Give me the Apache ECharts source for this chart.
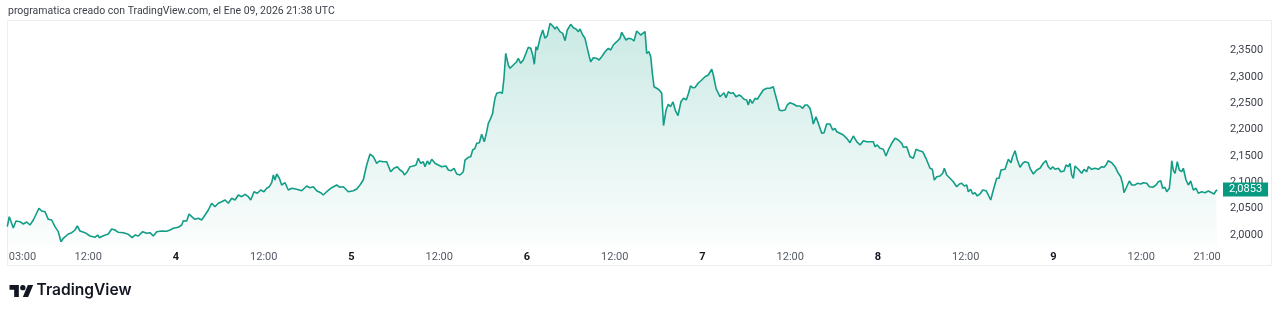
<!DOCTYPE html>
<html><head><meta charset="utf-8">
<script src="https://cdn.jsdelivr.net/npm/echarts@6/dist/echarts.min.js"></script>
<style>html,body{margin:0;padding:0;background:#fff}#c{width:1280px;height:314px}</style>
</head><body><div id="c"></div>
<script>
// hours since 2026-01-03 00:00 UTC
const hours = [0.93,1.20,1.75,2.12,2.67,2.90,3.12,3.58,4.03,4.49,
4.95,5.26,5.63,6.09,6.54,7.00,7.45,7.90,8.27,8.59,
8.82,9.27,9.74,10.19,10.50,10.87,11.56,12.24,12.92,13.29,
13.51,14.06,14.74,15.21,15.66,16.11,16.79,17.48,18.02,18.39,
18.84,19.45,19.99,20.44,20.90,21.36,22.04,22.73,23.18,23.63,
24.31,24.78,25.00,25.46,25.78,26.15,26.60,27.05,27.51,27.97,
28.42,28.88,29.33,29.78,30.25,30.70,31.15,31.62,32.07,32.52,
32.98,33.44,33.89,34.22,34.67,35.12,35.58,36.03,36.40,36.76,
37.09,37.31,37.54,37.77,38.13,38.45,38.91,39.36,39.82,40.51,
41.19,41.87,42.32,42.78,43.24,43.79,
44.14,44.61,45.29,45.98,46.43,46.88,47.56,48.25,48.71,49.16,
49.61,50.08,50.53,50.98,51.45,51.80,52.35,52.81,53.36,53.81,
54.26,54.63,55.00,55.22,55.63,56.00,56.45,56.82,57.13,57.46,
57.82,58.05,58.37,58.64,58.97,59.42,59.87,60.33,60.92,61.24,
61.61,62.02,62.39,62.84,63.29,63.52,63.97,64.30,64.57,64.89,
65.12,65.48,65.80,66.16,66.49,66.71,67.04,67.31,67.39,67.62,
67.86,68.31,68.62,68.85,69.09,69.44,69.68,70.13,70.59,70.81,
71.14,71.49,71.86,72.18,72.51,72.78,73.00,73.23,73.41,73.78,
74.15,74.46,74.78,75.15,75.52,75.83,76.06,76.51,76.88,77.20,
77.51,77.74,77.98,78.33,78.70,79.02,79.25,79.62,79.93,80.25,
80.52,80.71,81.07,81.53,81.85,82.21,82.67,83.12,83.45,83.80,
84.27,84.72,84.95,85.17,85.54,85.85,86.32,86.63,87.00,87.22,
87.55,87.82,88.14,88.37,88.68,88.92,89.14,89.37,89.74,90.09,
90.42,90.67,91.02,91.32,91.62,91.97,92.31,92.65,93.06,93.40,
93.79,94.09,94.36,94.66,94.97,95.43,95.89,96.34,96.79,97.03,
97.26,97.48,97.85,98.39,98.63,98.94,99.21,99.53,99.86,100.21,
100.58,101.03,101.36,101.68,102.04,102.26,102.50,102.81,103.18,103.49,
103.86,104.31,104.78,105.23,105.68,105.91,106.23,106.50,106.83,107.28,
107.59,107.97,108.42,108.88,109.33,109.70,110.02,110.33,110.70,110.93,
111.15,111.52,111.75,112.07,112.30,112.62,112.98,113.44,113.80,114.12,
114.35,114.80,115.25,115.72,116.17,116.62,117.09,117.54,117.99,118.46,
118.91,119.36,119.59,119.90,120.27,120.73,121.09,121.41,121.87,122.33,
122.78,123.24,123.46,123.93,124.38,124.83,125.20,125.65,126.11,126.56,
127.11,127.43,127.70,128.03,128.48,128.85,129.07,129.39,129.85,130.30,
130.76,131.12,131.44,131.80,132.13,132.35,132.68,132.95,133.26,133.58,
133.95,134.32,134.77,135.08,135.41,135.77,136.23,136.55,136.82,137.37,
137.82,138.19,138.37,138.74,139.05,139.42,139.79,140.10,140.55,140.79,
141.24,141.70,142.15,142.60,142.97,143.29,143.61,143.89,144.21,144.66,
144.99,145.44,145.71,146.03,146.26,146.49,146.71,146.94,147.39,147.86,
148.17,148.54,148.76,149.22,149.67,150.13,150.59,150.91,151.18,151.49,
151.96,152.41,152.86,153.19,153.46,153.64,154.01,154.37,154.69,155.15,
155.46,155.93,156.28,156.75,157.10,157.57,158.02,158.33,158.66,158.93,
159.25,159.48,159.84,160.03,160.17,160.38,160.62,160.93,161.20,161.53,
161.75,162.12,162.44,162.76,163.12,163.49,163.80,164.27,164.72,165.17,
165.63,165.95,166.22,166.40];

const prices = [2.0158,2.0348,2.0133,2.0266,2.0253,2.0272,2.0209,2.0247,2.0190,2.0285,
2.0418,2.0507,2.0456,2.0442,2.0298,2.0285,2.0158,2.0063,1.9873,1.9937,
1.9905,2.0019,2.0044,2.0095,2.0171,2.0076,2.0044,1.9981,1.9956,2.0000,
1.9949,1.9987,2.0019,2.0114,2.0095,2.0051,2.0044,2.0013,1.9949,2.0000,
1.9981,2.0063,2.0032,2.0044,1.9981,2.0063,2.0076,2.0070,2.0095,2.0127,
2.0146,2.0190,2.0272,2.0266,2.0399,2.0348,2.0298,2.0317,2.0285,2.0380,
2.0475,2.0602,2.0537,2.0602,2.0632,2.0665,2.0602,2.0697,2.0665,2.0760,
2.0727,2.0773,2.0727,2.0665,2.0822,2.0792,2.0855,2.0822,2.0887,2.0917,
2.0993,2.1139,2.1044,2.1158,2.1077,2.0950,2.0993,2.0855,2.0887,2.0868,
2.0841,2.0931,2.0898,2.0917,2.0841,2.0803,
2.0760,2.0822,2.0898,2.0950,2.0906,2.0917,2.0822,2.0841,2.0874,2.0950,
2.1044,2.1329,2.1538,2.1487,2.1362,2.1405,2.1392,2.1392,2.1202,2.1267,
2.1297,2.1234,2.1202,2.1139,2.1202,2.1297,2.1310,2.1329,2.1457,2.1362,
2.1392,2.1297,2.1405,2.1343,2.1438,2.1362,2.1329,2.1297,2.1310,2.1234,
2.1221,2.1267,2.1158,2.1139,2.1202,2.1424,2.1476,2.1487,2.1614,2.1646,
2.1741,2.1753,2.1912,2.1772,2.1962,2.2121,2.2216,2.2311,2.2406,2.2596,
2.2691,2.2710,2.2691,2.2976,2.3450,2.3228,2.3166,2.3228,2.3291,2.3356,
2.3261,2.3323,2.3450,2.3564,2.3545,2.3418,2.3242,2.3576,2.3513,2.3735,
2.3893,2.3735,2.3785,2.4020,2.3969,2.3912,2.3956,2.3861,2.3830,2.3690,
2.3893,2.3874,2.4001,2.3937,2.3912,2.3861,2.3912,2.3798,2.3735,2.3545,
2.3386,2.3291,2.3367,2.3356,2.3323,2.3386,2.3481,2.3545,2.3513,2.3608,
2.3671,2.3735,2.3849,2.3849,2.3703,2.3735,2.3722,2.3684,2.3874,2.3893,
2.3798,2.3830,2.3861,2.3450,2.3481,2.3386,2.3071,2.2816,2.2786,2.2754,
2.2691,2.2079,2.2374,2.2482,2.2436,2.2526,2.2355,2.2269,2.2535,2.2596,
2.2569,2.2691,2.2830,2.2797,2.2801,2.2886,2.2943,2.3006,2.3038,2.3071,
2.3147,2.3038,2.2786,2.2626,2.2596,2.2702,2.2607,2.2721,2.2691,2.2702,
2.2626,2.2659,2.2626,2.2577,2.2564,2.2469,2.2577,2.2501,2.2596,2.2577,
2.2659,2.2754,2.2786,2.2786,2.2816,2.2691,2.2531,2.2374,2.2360,2.2374,
2.2469,2.2512,2.2488,2.2450,2.2450,2.2406,2.2469,2.2469,2.2406,2.2279,
2.2108,2.2247,2.2216,2.2026,2.1931,2.1943,2.2108,2.2108,2.1994,2.2026,
2.1962,2.1931,2.1899,2.1836,2.1753,2.1880,2.1772,2.1709,2.1791,2.1772,
2.1772,2.1772,2.1677,2.1709,2.1646,2.1627,2.1500,2.1614,2.1741,2.1836,
2.1804,2.1741,2.1665,2.1677,2.1487,2.1457,2.1627,2.1601,2.1582,2.1457,
2.1267,2.1248,2.1044,2.1107,2.1120,2.1172,2.1267,2.1139,2.1077,2.1012,
2.0917,2.0968,2.0982,2.0931,2.0950,2.0822,2.0868,2.0779,2.0803,2.0741,
2.0779,2.0855,2.0841,2.0760,2.0665,2.0855,2.1077,2.1077,2.1234,2.1248,
2.1438,2.1373,2.1476,2.1601,2.1424,2.1286,2.1362,2.1392,2.1373,2.1267,
2.1158,2.1234,2.1267,2.1362,2.1411,2.1297,2.1248,2.1297,2.1248,2.1267,
2.1202,2.1215,2.1329,2.1297,2.1362,2.1139,2.1077,2.1310,2.1248,2.1172,
2.1248,2.1202,2.1297,2.1248,2.1267,2.1248,2.1297,2.1286,2.1329,2.1411,
2.1373,2.1297,2.1172,2.1107,2.0968,2.0803,2.0917,2.1025,2.0950,2.0950,
2.0982,2.0968,2.0993,2.0982,2.0917,2.0906,2.0950,2.1012,2.1031,2.0887,
2.0906,2.0822,2.0887,2.1139,2.1411,2.1234,2.1172,2.1392,2.1234,2.1202,
2.1267,2.1044,2.0950,2.1025,2.0855,2.0887,2.0792,2.0822,2.0803,2.0836,
2.0803,2.0779,2.0841,2.0853];

const xTickHours = [3,12,24,36,48,60,72,84,96,108,120,132,144,156,165];
const xTickLabels = ['03:00','12:00','4','12:00','5','12:00','6','12:00','7','12:00','8','12:00','9','12:00','21:00'];
const yTicks = [2.00,2.05,2.10,2.15,2.20,2.25,2.30,2.35];
const headerText = 'programatica creado con TradingView.com, el Ene 09, 2026 21:38 UTC';

const fmt = v => v.toFixed(4).replace('.', ',');
const lastPrice = prices[prices.length - 1];
const FONT = 'Roboto, "Noto Sans", sans-serif';

const chart = echarts.init(document.getElementById('c'), null, {renderer: 'canvas'});
chart.setOption({
  animation: false,
  backgroundColor: '#ffffff',
  grid: {left: 7, right: 58, top: 21, bottom: 67, containLabel: false},
  xAxis: {
    type: 'value', min: 0.89, max: 167.04,
    axisLine: {show: false}, axisTick: {show: false}, splitLine: {show: false},
    axisLabel: {
      customValues: xTickHours, margin: 5, fontFamily: FONT, fontSize: 11, color: '#555a66',
      formatter: v => {
        const i = xTickHours.indexOf(Math.round(v * 100) / 100);
        const t = i >= 0 ? xTickLabels[i] : '';
        return /^\d$/.test(t) ? '{b|' + t + '}' : t;
      },
      rich: {b: {fontWeight: 'bold', color: '#131722', fontSize: 11, fontFamily: FONT}}
    }
  },
  yAxis: {
    type: 'value', position: 'right', min: 1.97721, max: 2.40639, scale: true,
    axisLine: {show: false}, axisTick: {show: false}, splitLine: {show: false},
    axisLabel: {customValues: yTicks, margin: 8, align: 'left', fontFamily: FONT, fontSize: 11, color: '#3b3f48', formatter: v => fmt(v)}
  },
  graphic: [
    {type: 'rect', z: -1, silent: true, shape: {x: 7.5, y: 20.5, width: 1264, height: 245}, style: {fill: 'none', stroke: '#eceef2', lineWidth: 1}},
    {type: 'text', x: 8, y: 6, style: {text: headerText, fontFamily: FONT, fontSize: 10.5, fill: '#3b3f48'}},
    {type: 'polygon', shape: {points: [[9.5,285],[18.84,285],[18.84,297],[14.17,297],[14.17,289.67],[9.5,289.67]]}, style: {fill: '#131722'}},
    {type: 'polygon', shape: {points: [[28.18,297],[22.84,297],[27.84,285],[33.17,285]]}, style: {fill: '#131722'}},
    {type: 'circle', shape: {cx: 22.84, cy: 287.67, r: 2.67}, style: {fill: '#131722'}},
    {type: 'text', x: 36.5, y: 282, style: {text: 'TradingView', fontFamily: 'Inter, Roboto, sans-serif', fontWeight: 600, fontSize: 15.6, fill: '#131722'}}
  ],
  series: [{
    type: 'line',
    data: hours.map((h, i) => [h, prices[i]]),
    showSymbol: false, symbol: 'none',
    lineStyle: {color: '#129d86', width: 1.6},
    areaStyle: {color: new echarts.graphic.LinearGradient(0, 0, 0, 1, [
      {offset: 0, color: 'rgba(8,153,129,0.30)'},
      {offset: 1, color: 'rgba(8,153,129,0.02)'}
    ])},
    markLine: {
      silent: true, symbol: 'none', animation: false,
      lineStyle: {color: 'rgba(0,0,0,0)', width: 0, type: 'solid'},
      label: {
        show: true, position: 'end', distance: 1, formatter: () => fmt(lastPrice),
        backgroundColor: '#089981', color: '#ffffff', fontFamily: FONT, fontSize: 11,
        padding: [2, 6, 1, 6], lineHeight: 11, offset: [0, 2]
      },
      data: [{yAxis: lastPrice}]
    }
  }]
});
</script></body></html>
